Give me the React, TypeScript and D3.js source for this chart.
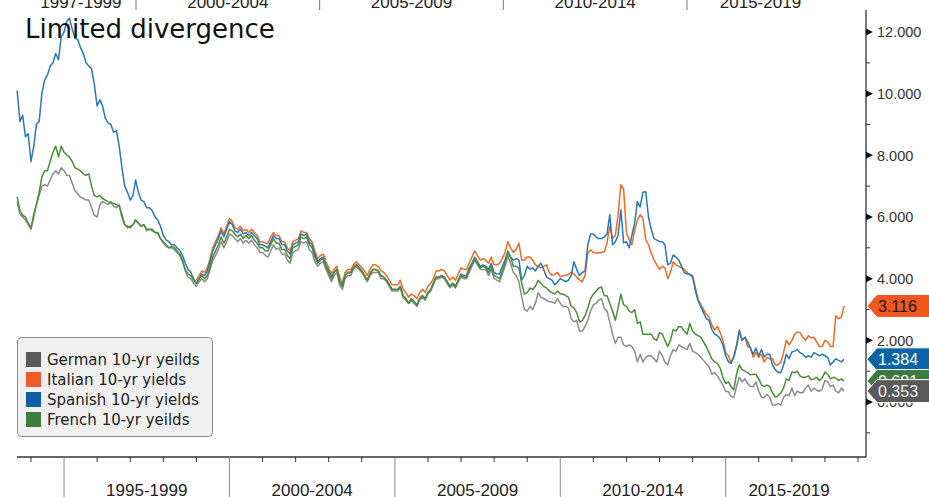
import React from "react";
import * as d3 from "d3";

// Monthly 10-yr yields; German/Spanish/French start Aug 1993, Italian starts Jan 1999
const germanYields = [
  6.5, 6.1, 6.0, 5.9, 5.75,
  5.6, 6.0, 6.4, 6.7, 7.0, 7.05, 7.0, 7.2, 7.4, 7.5, 7.4, 7.6,
  7.5, 7.35, 7.35, 7.1, 6.85, 6.75, 6.65, 6.6, 6.55, 6.55, 6.3, 6.05,
  6.0, 6.4, 6.5, 6.45, 6.4, 6.5, 6.35, 6.3, 6.4, 6.1, 5.75, 5.65,
  5.7, 5.75, 5.9, 5.8, 5.7, 5.75, 5.55, 5.6, 5.55, 5.5, 5.45, 5.3,
  5.15, 5.05, 5.0, 5.0, 4.95, 4.85, 4.75, 4.55, 4.25, 4.05, 4.0, 3.85,
  3.75, 3.9, 4.0, 3.9, 4.0, 4.3, 4.6, 4.75, 4.95, 5.2, 5.0, 5.2,
  5.45, 5.4, 5.3, 5.2, 5.3, 5.15, 5.25, 5.15, 5.25, 5.1, 5.0, 4.85,
  4.85, 4.75, 4.7, 4.9, 5.1, 4.95, 5.0, 4.8, 4.8, 4.6, 4.5, 4.85,
  4.9, 4.95, 5.2, 5.15, 5.2, 4.95, 4.85, 4.55, 4.4, 4.5, 4.55, 4.3,
  4.1, 3.9, 4.1, 4.2, 3.8, 3.65, 4.0, 4.1, 4.1, 4.3, 4.4, 4.3,
  4.2, 4.05, 3.9, 4.1, 4.2, 4.2, 4.2, 4.0, 4.0, 3.9, 3.75, 3.6,
  3.6, 3.6, 3.7, 3.4, 3.3, 3.2, 3.3, 3.2, 3.1, 3.3, 3.4, 3.3,
  3.5, 3.6, 3.8, 4.0, 4.0, 4.05, 4.0, 3.85, 3.7, 3.8, 3.7, 3.9,
  4.05, 4.0, 4.0, 4.2, 4.4, 4.6, 4.45, 4.3, 4.3, 4.3, 4.1, 4.3,
  4.0, 3.95, 3.9, 4.15, 4.4, 4.75, 4.5, 4.2, 4.1, 3.9, 3.4, 3.0,
  2.95, 3.1, 3.0, 3.2, 3.55, 3.4, 3.35, 3.3, 3.25, 3.25, 3.2, 3.35,
  3.2, 3.1, 3.1, 3.05, 2.7, 2.6, 2.65, 2.3, 2.3, 2.45, 2.65, 2.95,
  3.15, 3.2, 3.3, 3.35, 3.05, 2.95, 2.6, 2.2, 1.9, 2.1, 2.1, 1.85,
  1.8, 1.85, 1.8, 1.65, 1.3, 1.55, 1.3, 1.45, 1.5, 1.5, 1.4, 1.3,
  1.65, 1.5, 1.3, 1.2, 1.5, 1.7, 1.65, 1.85, 1.8, 1.75, 1.7, 1.9,
  1.65, 1.6, 1.55, 1.45, 1.35, 1.25, 1.15, 0.9, 0.95, 0.85, 0.7, 0.55,
  0.35, 0.33, 0.18, 0.15, 0.5, 0.8, 0.65, 0.75, 0.6, 0.5, 0.5, 0.65,
  0.35, 0.15, 0.15, 0.25, 0.15, -0.1, -0.1, -0.05, -0.1, 0.15, 0.25, 0.2,
  0.45, 0.2, 0.35, 0.3, 0.3, 0.45, 0.55, 0.35, 0.45, 0.38, 0.35, 0.42,
  0.7, 0.65, 0.5, 0.55, 0.35, 0.3, 0.45, 0.353,
];

const frenchYields = [
  6.65, 6.2, 6.05, 6.0, 5.8,
  5.65, 6.1, 6.4, 6.8, 7.3, 7.5, 7.5, 7.8, 8.1, 8.3, 7.95, 8.3,
  8.1, 8.0, 7.95, 7.8, 7.6, 7.55, 7.5, 7.4, 7.35, 7.4, 7.0, 6.7,
  6.65, 6.7, 6.6, 6.55, 6.5, 6.45, 6.45, 6.4, 6.35, 6.0, 5.75, 5.7,
  5.65, 5.75, 5.9, 5.8, 5.7, 5.75, 5.6, 5.6, 5.6, 5.5, 5.5, 5.3,
  5.2, 5.1, 5.0, 5.05, 5.0, 4.9, 4.8, 4.6, 4.3, 4.15, 4.1, 3.95,
  3.85, 4.0, 4.1, 4.0, 4.1, 4.4, 4.7, 4.9, 5.1, 5.35, 5.15, 5.35,
  5.6, 5.55, 5.45, 5.35, 5.45, 5.3, 5.4, 5.3, 5.4, 5.25, 5.15, 5.0,
  5.0, 4.9, 4.9, 5.1, 5.3, 5.15, 5.15, 4.95, 4.95, 4.75, 4.65, 5.0,
  5.05, 5.1, 5.35, 5.3, 5.35, 5.1, 5.0, 4.7, 4.5, 4.6, 4.65, 4.4,
  4.2, 4.0, 4.2, 4.3, 3.9, 3.75, 4.1, 4.2, 4.2, 4.35, 4.45, 4.35,
  4.25, 4.1, 3.95, 4.15, 4.3, 4.3, 4.25, 4.1, 4.05, 3.95, 3.8, 3.65,
  3.65, 3.65, 3.75, 3.45, 3.35, 3.2, 3.35, 3.25, 3.15, 3.35, 3.45, 3.35,
  3.55, 3.65, 3.85, 4.05, 4.05, 4.1, 4.05, 3.9, 3.75, 3.85, 3.75, 3.95,
  4.1, 4.05, 4.05, 4.3, 4.45, 4.65, 4.5, 4.35, 4.4, 4.35, 4.2, 4.4,
  4.1, 4.05, 4.0, 4.25, 4.5, 4.87, 4.7, 4.4, 4.4, 4.35, 3.85, 3.5,
  3.55, 3.7, 3.65, 3.75, 3.95, 3.85, 3.75, 3.7, 3.6, 3.55, 3.5, 3.6,
  3.5, 3.5, 3.45, 3.4, 3.1, 3.05, 2.9, 2.6, 2.65, 2.8, 3.05, 3.35,
  3.5, 3.6, 3.7, 3.73, 3.45, 3.45, 3.2, 2.95, 2.65, 3.05, 3.5, 3.15,
  3.1, 2.95, 2.9, 3.0, 2.55, 2.6, 2.2, 2.2, 2.2, 2.2, 2.05, 2.0,
  2.25, 2.2, 2.0, 1.8, 2.0, 2.35, 2.3, 2.45, 2.43, 2.3, 2.2, 2.55,
  2.3, 2.2, 2.15, 2.1, 1.95, 1.8, 1.6, 1.4, 1.3, 1.25, 1.1, 0.8,
  0.6, 0.65, 0.5, 0.4, 0.9, 1.2, 1.05, 1.0, 0.95, 0.88, 0.9, 0.9,
  0.75, 0.55, 0.5, 0.55, 0.5, 0.3, 0.16, 0.2, 0.3, 0.45, 0.75, 0.7,
  0.97, 0.95, 1.0, 0.85, 0.8, 0.8, 0.85, 0.72, 0.75, 0.8, 0.7, 0.78,
  0.97, 0.9, 0.75, 0.8, 0.78, 0.7, 0.75, 0.681,
];

const spanishYields = [
  10.1, 9.1, 9.3, 8.6, 8.7,
  7.8, 8.3, 9.0, 9.1, 10.0, 10.45, 10.6, 10.9, 11.0, 11.3, 11.1, 11.85,
  12.0, 12.35, 12.45, 12.1, 11.8, 11.75, 11.5, 11.3, 11.0, 10.9, 10.8, 10.3,
  9.6, 9.8, 9.6, 9.2, 9.05, 9.0, 8.75, 8.8, 8.3, 7.6, 7.0, 6.8,
  6.55, 6.7, 7.2, 6.8, 6.55, 6.5, 6.3, 6.3, 6.2, 6.0, 5.9, 5.7,
  5.4, 5.26, 5.2, 5.1, 5.1, 5.0, 4.93, 4.75, 4.5, 4.3, 4.2, 4.0,
  3.85, 4.0, 4.15, 4.1, 4.25, 4.55, 4.9, 5.1, 5.3, 5.55, 5.35, 5.6,
  5.85, 5.75, 5.55, 5.5, 5.6, 5.45, 5.5, 5.4, 5.5, 5.4, 5.3, 5.1,
  5.1, 5.05, 5.0, 5.2, 5.4, 5.3, 5.3, 5.1, 5.1, 4.9, 4.8, 5.1,
  5.15, 5.2, 5.45, 5.4, 5.45, 5.2, 5.1, 4.8, 4.55, 4.65, 4.7, 4.45,
  4.25, 4.05, 4.2, 4.3, 3.95, 3.75, 4.1, 4.2, 4.2, 4.35, 4.45, 4.35,
  4.25, 4.1, 3.95, 4.15, 4.3, 4.3, 4.25, 4.1, 4.05, 3.95, 3.8, 3.65,
  3.65, 3.65, 3.75, 3.45, 3.35, 3.2, 3.35, 3.25, 3.15, 3.35, 3.45, 3.35,
  3.55, 3.65, 3.85, 4.05, 4.05, 4.1, 4.05, 3.9, 3.75, 3.85, 3.75, 3.95,
  4.15, 4.1, 4.1, 4.35, 4.5, 4.7, 4.55, 4.4, 4.45, 4.4, 4.3, 4.5,
  4.2, 4.15, 4.15, 4.4, 4.6, 4.9, 4.7, 4.6, 4.65, 4.6, 3.96, 4.1,
  4.4, 4.3, 4.35, 4.25, 4.4, 4.5, 4.3, 4.06, 4.0, 3.95, 3.8, 3.9,
  4.0, 3.95, 3.9, 3.95, 4.1, 4.55, 4.3, 4.1, 4.2, 4.25, 5.1, 5.45,
  5.45, 5.35, 5.3, 5.3, 5.35, 5.45, 6.07, 5.1, 5.2, 5.4, 6.23, 5.16,
  5.2, 5.0, 5.4, 5.8, 6.5, 6.33, 6.8, 6.82, 6.0, 5.6, 5.3, 5.25,
  5.2, 5.2, 5.1, 4.45, 4.5, 4.77, 4.7, 4.6, 4.4, 4.2, 4.15, 4.15,
  4.05, 3.6, 3.3, 3.1, 2.9, 2.7, 2.65, 2.35, 2.2, 2.15, 2.05, 1.85,
  1.5, 1.3, 1.25, 1.45, 1.8, 2.3, 2.0, 2.1, 1.95, 1.75, 1.55, 1.75,
  1.5, 1.7, 1.46, 1.55, 1.55, 1.2, 1.05, 0.97, 0.95, 1.2, 1.55, 1.4,
  1.62, 1.65, 1.7, 1.6, 1.55, 1.45, 1.5, 1.45, 1.6, 1.55, 1.5, 1.55,
  1.5, 1.45, 1.2, 1.3, 1.4, 1.35, 1.3, 1.384,
];

const italianYields = [
  3.95, 4.1, 4.25, 4.2, 4.35, 4.65, 5.0, 5.2, 5.4, 5.65, 5.45, 5.7,
  5.95, 5.85, 5.65, 5.6, 5.7, 5.55, 5.6, 5.5, 5.6, 5.5, 5.4, 5.2,
  5.2, 5.15, 5.15, 5.35, 5.5, 5.4, 5.4, 5.2, 5.2, 5.0, 4.9, 5.2,
  5.25, 5.3, 5.55, 5.5, 5.5, 5.3, 5.2, 4.9, 4.65, 4.75, 4.8, 4.55,
  4.35, 4.15, 4.3, 4.4, 4.05, 3.85, 4.2, 4.3, 4.3, 4.45, 4.55, 4.45,
  4.35, 4.25, 4.1, 4.3, 4.45, 4.45, 4.4, 4.25, 4.2, 4.1, 3.95, 3.8,
  3.8, 3.8, 3.95, 3.65, 3.55, 3.4, 3.5, 3.45, 3.35, 3.55, 3.65, 3.55,
  3.75, 3.85, 4.0, 4.25, 4.25, 4.3, 4.25, 4.1, 3.95, 4.05, 3.95, 4.15,
  4.35, 4.3, 4.3, 4.5, 4.7, 4.9, 4.75, 4.6, 4.65, 4.6, 4.5, 4.7,
  4.45, 4.45, 4.5, 4.65, 4.85, 5.2, 5.0, 4.85, 4.95, 5.15, 4.6, 4.6,
  4.7, 4.7, 4.6, 4.45, 4.4, 4.35, 4.4, 4.45, 4.2, 4.1, 4.15, 4.2,
  4.06, 4.1, 4.1, 4.15, 4.2, 4.15, 4.05, 3.96, 3.9, 4.1, 4.83, 4.93,
  4.85, 4.83, 4.83, 4.85, 4.87, 5.16, 5.7, 5.3, 5.4, 6.07, 7.05, 6.9,
  5.5, 5.26, 5.1, 5.58, 5.9, 6.07, 5.97, 5.26, 5.1, 4.83, 4.6, 4.45,
  4.3, 4.4, 4.35, 4.0, 4.2, 4.55, 4.45, 4.4, 4.35, 4.3, 4.2, 4.12,
  4.1, 3.7, 3.35, 3.15, 3.0, 2.85, 2.75, 2.5, 2.34, 2.45, 2.25, 2.0,
  1.6, 1.5, 1.27, 1.5, 1.85, 2.34, 2.0, 2.1, 1.8, 1.75, 1.45, 1.6,
  1.45, 1.55, 1.3, 1.45, 1.4, 1.4, 1.2, 1.2, 1.3, 1.6, 2.0, 1.85,
  2.0, 2.2, 2.27, 2.25, 2.1, 2.0, 2.15, 2.08, 2.1, 1.95, 1.8, 1.8,
  2.0, 1.95, 1.8, 1.8, 2.8, 2.7, 2.75, 3.116,
];

const seriesNames = ["German 10-yr yeilds", "Italian 10-yr yields", "Spanish 10-yr yields", "French 10-yr yeilds"];
const lastLabels = ["0.353", "3.116", "1.384", "0.681"];
const majorTicks = [0, 2, 4, 6, 8, 10, 12];
const minorTicks = [-1, 1, 3, 5, 7, 9, 11];
const bottomPeriods = ["1995-1999", "2000-2004", "2005-2009", "2010-2014", "2015-2019"];
const bottomPeriodStarts = [1995, 2000, 2005, 2010, 2015];
const topPeriods = ["1997-1999", "2000-2004", "2005-2009", "2010-2014", "2015-2019"];
const topPeriodBounds = [[1997, 2000], [2000, 2005], [2005, 2010], [2010, 2015], [2015, 2019]];
const topSeparators = [2000, 2005, 2010, 2015];

const lineColors = ["#8c8c8c", "#f26a21", "#2878b8", "#4c8c38"];
const swatchColors = ["#5a5a5a", "#f05a28", "#0f5ea8", "#3e7d3e"];
const tagColors = ["#5a5a5a", "#f2551e", "#0b63a6", "#3d7a3d"];
const tagText = ["#f2f2f2", "#1a1a1a", "#ffffff", "#ffffff"];

const W = 929;
const H = 497;

export default function App() {
  const x = d3.scaleTime().domain([new Date(1994, 0, 1), new Date(2019, 0, 1)]).range([31, 858]);
  const y = d3.scaleLinear().domain([0, 12]).range([402, 32]);
  const xTop = d3.scaleLinear().domain([2000, 2015]).range([136, 687]);

  const toPts = (vals: number[], start: Date) => vals.map((v, i) => [d3.timeMonth.offset(start, i), v] as [Date, number]);
  const start = new Date(1993, 7, 1);
  const series = [
    toPts(germanYields, start),
    toPts(italianYields, new Date(1999, 0, 1)),
    toPts(spanishYields, start),
    toPts(frenchYields, start),
  ];
  const line = d3.line<[Date, number]>().x((d) => x(d[0])).y((d) => y(d[1]));

  const axisX = 866;
  const baseY = 457;
  const years = d3.range(1994, 2020);
  const lastX = x(new Date(2018, 10, 1));

  const tagOrder = [1, 2, 3, 0];
  const lastVals = [germanYields, italianYields, spanishYields, frenchYields].map((a) => a[a.length - 1]);

  return (
    <svg width={W} height={H} style={{ position: "absolute", left: 0, top: 0, background: "#fff" }}>
      {/* top period axis (clipped) */}
      {topSeparators.map((yr) => (
        <line key={yr} x1={xTop(yr)} x2={xTop(yr)} y1={0} y2={10} stroke="#777" strokeWidth={1} />
      ))}
      {topPeriods.map((t, i) => (
        <text key={t} x={(xTop(topPeriodBounds[i][0]) + xTop(topPeriodBounds[i][1])) / 2} y={8}
          textAnchor="middle" fontFamily="Liberation Sans, Arial, sans-serif" fontSize={17} fill="#222">{t}</text>
      ))}

      {/* lines */}
      {series.map((s, i) => (
        <path key={i} d={line(s) || ""} fill="none" stroke={lineColors[i]} strokeWidth={1.5} strokeLinejoin="round" />
      ))}

      {/* title */}
      <text x={25} y={38} fontFamily="DejaVu Sans, sans-serif" fontSize={26} fill="#111">Limited divergence</text>

      {/* bottom axis */}
      <line x1={17} x2={axisX} y1={baseY} y2={baseY} stroke="#333" strokeWidth={1.5} />
      {years.map((yr) => {
        const xx = x(new Date(yr, 0, 1));
        const sep = yr % 5 === 0;
        return <line key={yr} x1={xx} x2={xx} y1={baseY} y2={sep ? H : baseY + 5} stroke={sep ? "#888" : "#333"} strokeWidth={1} />;
      })}
      {bottomPeriods.map((t, i) => {
        const a = x(new Date(bottomPeriodStarts[i], 0, 1));
        const b = i === bottomPeriods.length - 1 ? lastX : x(new Date(bottomPeriodStarts[i] + 5, 0, 1));
        return (
          <text key={t} x={(a + b) / 2} y={496} textAnchor="middle" fontFamily="Liberation Sans, Arial, sans-serif" fontSize={17} fill="#222">{t}</text>
        );
      })}

      {/* right axis */}
      <line x1={axisX} x2={axisX} y1={10} y2={baseY} stroke="#222" strokeWidth={1.2} />
      {minorTicks.map((v) => (
        <line key={v} x1={axisX} x2={axisX + 4} y1={y(v)} y2={y(v)} stroke="#333" strokeWidth={1} />
      ))}
      {majorTicks.map((v) => (
        <g key={v}>
          <path d={`M${axisX},${y(v) - 3.5} L${axisX + 7},${y(v)} L${axisX},${y(v) + 3.5} Z`} fill="#111" />
          <text x={877} y={y(v)} dy="0.36em" fontFamily="Liberation Sans, Arial, sans-serif" fontSize={14.5} fill="#333">{v.toFixed(3)}</text>
        </g>
      ))}

      {/* last value tags */}
      {tagOrder.map((i) => {
        const cy = y(lastVals[i]);
        return (
          <g key={i}>
            <path d={`M${axisX + 1},${cy} L${axisX + 11},${cy - 11.5} L${W + 2},${cy - 11.5} L${W + 2},${cy + 11.5} L${axisX + 11},${cy + 11.5} Z`}
              fill={tagColors[i]} stroke="#fff" strokeWidth={1} />
            <text x={878} y={cy} dy="0.36em" fontFamily="Liberation Sans, Arial, sans-serif" fontSize={16} fill={tagText[i]}>{lastLabels[i]}</text>
          </g>
        );
      })}

      {/* legend */}
      <rect x={17.5} y={337.5} width={195} height={99} rx={4} fill="#f0f0f0" stroke="#8a8a8a" strokeWidth={1} />
      {seriesNames.map((n, i) => (
        <g key={n}>
          <rect x={26} y={352 + i * 20} width={15} height={15} fill={swatchColors[i]} />
          <text x={47} y={359.5 + i * 20} dy="0.35em" fontFamily="DejaVu Sans, sans-serif" fontSize={15} fill="#222">{n}</text>
        </g>
      ))}
    </svg>
  );
}
